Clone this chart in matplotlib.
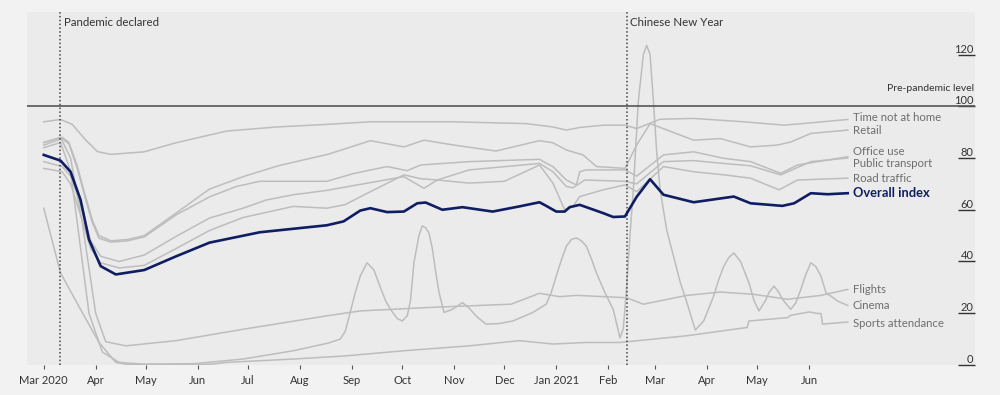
import numpy as np
import matplotlib.pyplot as plt

plt.rcParams['font.family'] = ['Lato', 'DejaVu Sans']

# x values are days since 1 March 2020, y values are index (pre-pandemic = 100)
START = np.datetime64('2020-03-01')

overall_days = [0, 10, 16, 22, 27, 34, 43, 60, 79, 99, 129, 169, 179, 189, 195, 205, 215, 223, 228,
                238, 250, 268, 284, 296, 300, 306, 311, 314, 320, 334, 340, 347, 354, 362, 370, 388,
                412, 422, 441, 448, 458, 468, 480]
overall_vals = [81.2, 79, 74.7, 63.8, 48.5, 38.2, 35, 36.7, 42, 47.3, 51.3, 54, 55.5, 59.7, 60.6, 59.1,
                59.3, 62.5, 62.8, 60, 61, 59.3, 61.3, 62.9, 61.5, 59.3, 59.3, 61, 61.9, 58.7, 57.2,
                57.4, 65, 71.8, 65.8, 62.9, 65.1, 62.5, 61.5, 62.5, 66.4, 66, 66.4]

time_days = [0, 10, 17, 25, 32, 40, 60, 79, 109, 139, 169, 195, 244, 288, 304, 312, 320, 334, 347,
             354, 368, 388, 418, 442, 458, 480]
time_vals = [94, 94.9, 93, 87, 82.5, 81.4, 82.4, 85.9, 90.4, 92, 93, 94, 94, 93.3, 92, 90.8, 91.8,
             92.7, 92.7, 91.4, 95, 95.3, 94, 92.7, 93.6, 94.9]

retail_days = [0, 11, 15, 20, 25, 29, 33, 40, 50, 60, 79, 99, 120, 140, 160, 170, 195, 215, 227,
               245, 270, 296, 304, 312, 322, 330, 347, 354, 362, 388, 404, 422, 438, 446, 458, 480]
retail_vals = [86, 88, 86, 77, 65, 56, 50, 48, 48.5, 50, 58.7, 68, 73, 77, 80, 81.5, 86.7, 84.3, 86.9,
               85, 82.7, 86.7, 85.9, 83.1, 81.2, 76.7, 76, 85, 93.3, 86.9, 87.5, 84.3, 85, 86.2,
               89.5, 90.8]

office_days = [0, 11, 15, 20, 25, 29, 33, 40, 50, 60, 79, 99, 115, 129, 169, 185, 205, 217, 225,
               254, 296, 300, 304, 312, 318, 320, 324, 347, 354, 370, 388, 406, 422, 440, 450, 480]
office_vals = [85, 87.5, 85.5, 76, 64, 55, 49, 47.5, 48, 49.5, 58, 65, 69, 71, 71, 74, 76.7, 75.1,
               77.3, 78.6, 79.5, 78, 76.7, 71.5, 69.6, 74.7, 75.4, 75.4, 73, 81.2, 82.4, 79.9, 78.6,
               74.1, 77.3, 80.5]

transport_days = [0, 11, 16, 22, 28, 34, 45, 60, 79, 99, 119, 133, 149, 169, 215, 227, 235, 254,
                  296, 304, 312, 316, 323, 347, 354, 370, 388, 406, 422, 440, 458, 480]
transport_vals = [78.6, 76.7, 73, 62, 48, 42, 40, 42.5, 49.7, 56.8, 60.6, 63.8, 65.8, 67.5, 72.8,
                  68.3, 71.5, 75.4, 77.9, 74.7, 69, 68.5, 71.5, 71, 70, 78.6, 79, 77.9, 77, 73.5,
                  78.6, 80]

road_days = [0, 11, 16, 22, 28, 34, 45, 60, 79, 99, 119, 149, 169, 180, 189, 215, 225, 235, 254,
             275, 296, 304, 311, 316, 320, 334, 347, 354, 370, 388, 406, 422, 439, 450, 480]
road_vals = [76, 74.7, 70, 58, 45, 39.5, 37.5, 38.5, 45, 52, 57, 61.3, 60.6, 62, 65, 73.5, 72, 71.5,
             70.3, 71, 77.3, 70.3, 60, 61.3, 65.1, 67.7, 69.6, 67, 76.7, 74.7, 73.5, 72.2, 67.7,
             71.5, 72.2]

flights_days = [0, 10, 16, 23, 31, 37, 49, 79, 119, 169, 189, 229, 279, 296, 308, 318, 348, 358,
                384, 404, 424, 444, 464, 480]
flights_vals = [86, 88, 80, 55, 20, 9, 7.4, 9.4, 13.8, 19, 20.9, 22.2, 23.5, 27.7, 26.4, 26.9, 26,
                23.5, 26.9, 28.2, 27.3, 25.4, 26.9, 29.2]

cinema_days = [0, 10, 16, 21, 27, 35, 45, 60, 90, 119, 149, 170, 177, 180, 183, 186, 189, 193, 197,
               201, 204, 207, 211, 214, 217, 219, 221, 224, 226, 228, 230, 232, 234, 236, 239, 244,
               250, 254, 258, 264, 272, 280, 292, 300, 303, 306, 309, 312, 315, 318, 321, 324, 327,
               330, 335, 340, 344, 346, 348, 350, 352, 355, 358, 360, 362, 364, 366, 368, 372, 376,
               380, 384, 389, 394, 400, 403, 406, 409, 412, 416, 421, 424, 427, 431, 433, 436, 439,
               441, 446, 449, 452, 455, 458, 461, 464, 467, 474, 480]
cinema_vals = [84, 86, 75, 50, 20, 5, 1, 0.3, 0.5, 2.3, 5.5, 8.5, 10, 13, 20.4, 28, 34.4, 39.5, 36.9,
               30, 25, 21.5, 18, 17, 19, 25, 39.5, 50, 53.8, 53, 51, 45, 36, 28, 20.3, 21.5, 24.1,
               22, 19, 15.8, 16, 17, 20.3, 23.5, 28, 34.4, 40.5, 45.9, 48.5, 49.1, 48, 45.9, 41,
               35.6, 28, 21.5, 10.5, 14, 30, 50, 67.7, 102, 120, 123.5, 120, 102, 82, 67.7, 52, 42,
               32, 24.1, 13.5, 17, 26.7, 33, 38.2, 41.5, 43.3, 40, 31.8, 25, 20.9, 25, 28, 30.5,
               28, 25.4, 21.5, 24, 29.2, 35, 39.5, 38, 34.4, 28, 24.7, 23]

sports_days = [0, 10, 23, 33, 43, 50, 100, 109, 149, 180, 215, 254, 284, 304, 324, 344, 384, 420,
               421, 444, 446, 457, 462, 464, 465, 480]
sports_vals = [60.6, 35.6, 20.3, 8.7, 1, 0.2, 0.3, 1, 2.3, 3.5, 5.5, 7.4, 9.4, 8.1, 8.7, 8.7, 11.3,
               14.5, 17, 18.3, 19.2, 20.5, 19.9, 19.9, 15.8, 16.6]

grey_names = ['Time not at home', 'Retail', 'Office use', 'Public transport', 'Road traffic',
              'Flights', 'Cinema', 'Sports attendance']
grey_series = [(time_days, time_vals), (retail_days, retail_vals), (office_days, office_vals),
               (transport_days, transport_vals), (road_days, road_vals),
               (flights_days, flights_vals), (cinema_days, cinema_vals),
               (sports_days, sports_vals)]
grey_label_y = [95.5, 90.5, 82.4, 77.8, 72, 29, 22.8, 16.2]

month_labels = ['Mar 2020', 'Apr', 'May', 'Jun', 'Jul', 'Aug', 'Sep', 'Oct', 'Nov', 'Dec',
                'Jan 2021', 'Feb', 'Mar', 'Apr', 'May', 'Jun']
y_ticks = [0, 20, 40, 60, 80, 100, 120]

events = [('2020-03-11', 'Pandemic declared'), ('2021-02-12', 'Chinese New Year')]


def to_dates(days):
    return START + np.array(days, dtype='timedelta64[D]')


fig = plt.figure(figsize=(10, 3.95), dpi=100, facecolor='#f2f2f2')
ax = fig.add_axes([0.027, 0.076, 0.948, 0.894])
ax.set_facecolor('#ebebeb')

grey = '#bdbdbd'
navy = '#0f1d62'
label_x = START + np.timedelta64(483, 'D')

for (d, v), name, ly in zip(grey_series, grey_names, grey_label_y):
    ax.plot(to_dates(d), v, color=grey, lw=1.1, zorder=2)
    ax.text(label_x, ly, name, color='#6e6e6e', fontsize=8.2, va='center', ha='left')

ax.plot(to_dates(overall_days), overall_vals, color=navy, lw=1.9, zorder=4)
ax.text(label_x, 66.5, 'Overall index', color=navy, fontsize=9.3, fontweight='bold',
        va='center', ha='left')

# pre-pandemic reference
ax.axhline(100, color='#555555', lw=1.2, zorder=3)
ax.text(0.999, 107, 'Pre-pandemic level', transform=ax.get_yaxis_transform(),
        ha='right', va='center', fontsize=7.5, color='#333333')

for date, text in events:
    ax.axvline(np.datetime64(date), color='#444444', lw=1.1, ls=(0, (1, 1.5)), zorder=3)
    ax.text(np.datetime64(date) + np.timedelta64(2, 'D'), 132.5, text, fontsize=8.3,
            color='#333333', va='center', ha='left')

ax.set_xlim(START - np.timedelta64(10, 'D'), START + np.timedelta64(556, 'D'))
ax.set_ylim(0, 136.5)

months = np.arange(np.datetime64('2020-03'), np.datetime64('2021-07'), dtype='datetime64[M]')
ax.set_xticks(months.astype('datetime64[D]'))
ax.set_xticklabels(month_labels, fontsize=8, color='#333333')
ax.tick_params(axis='x', direction='out', length=3, color='#555555', pad=4)

ax.yaxis.tick_right()
ax.set_yticks(y_ticks)
ax.set_yticklabels([str(t) for t in y_ticks], fontsize=8, color='#333333')
ax.tick_params(axis='y', direction='in', length=12, width=1, color='#333333', pad=-1)
for lab in ax.get_yticklabels():
    lab.set_horizontalalignment('right')
    lab.set_verticalalignment('bottom')

for s in ax.spines.values():
    s.set_visible(False)

fig.savefig('out.png', dpi=100, facecolor=fig.get_facecolor())
